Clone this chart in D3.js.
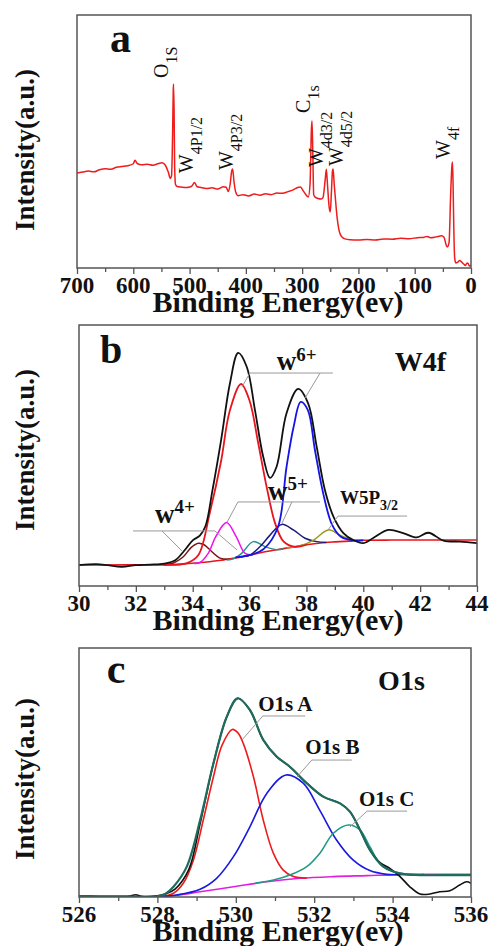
<!DOCTYPE html>
<html>
<head>
<meta charset="utf-8">
<script src="https://cdn.jsdelivr.net/npm/d3@7"></script>
<style>
  body { margin: 0; background: #fff; }
  svg text { font-family: "Liberation Serif", "Times New Roman", serif; font-weight: bold; fill: #111; }
</style>
</head>
<body>
<svg id="chart" width="489" height="946"></svg>
<script>
// ---- data: [binding energy (eV), intensity (a.u., 0-100 of frame height)] ----

// (a) survey spectrum
const surveyPts = [
  [700,37.5],[690,37.9],[680,38.3],[670,38.0],[660,38.8],[650,39.2],[640,39.0],[630,39.8],
  [620,40.1],[610,40.4],[600,41.2],[597,42.6],[593,41.3],[585,40.8],[575,41.0],[565,40.6],
  [555,41.3],[549,41.6],[543,40.6],[538,38.0],[534,35.4],[532,36.5],[530,55],[529,70],
  [528.5,72.7],[527.5,62],[526.5,40],[525,33],[522,32.2],[515,32.0],[505,31.8],[497,32.2],
  [491,33.8],[487,32.2],[480,31.8],[470,31.4],[460,31.7],[450,31.2],[440,32.1],[435,31.9],
  [431,30.2],[428,33],[425,38.5],[423.5,39.1],[421,34],[418,30],[414,28.6],[405,29.0],
  [395,28.5],[385,29.2],[375,28.8],[365,29.3],[355,29.0],[345,29.6],[335,29.5],[325,30.2],
  [315,31.0],[308,31.8],[303,32.0],[298,30.5],[292,28.6],[289,28.1],[286,33],[283.5,55],
  [282.5,58.1],[281,45],[279.5,29],[277,28.0],[272,27.5],[266,27.3],[263,27.8],[259,35],
  [257,39.0],[255,33],[252,24],[250,22.1],[248,30],[246,38.5],[245,39.1],[243,33],[240,25],
  [238,20.2],[235,15.5],[232,13.2],[228,12.0],[224,11.5],[215,11.2],[200,11.1],[185,11.3],
  [170,11.1],[155,11.5],[140,11.4],[125,11.8],[110,11.6],[95,12.0],[85,12.1],[78,12.5],
  [72,12.0],[62,12.3],[52,12.7],[48,12.2],[44,9.0],[42,8.3],[39,10],[36,30],[34,40],
  [33,41.9],[32,35],[30.5,15],[29,4],[27,2.0],[24,2.2],[20,3.0],[17,2.4],[13,1.6],[10,1.0],
  [7,2.0],[5,1.8],[3,0.8],[0,1.0]
];
const surveyTicks = [700, 600, 500, 400, 300, 200, 100, 0];
const surveyMinor = [650, 550, 450, 350, 250, 150, 50];

// (b) W4f
const w4fMeasured = [
  [30,8.0],[30.6,8.4],[31,8.0],[31.5,7.3],[32,8.0],[32.5,8.2],[33,8.6],[33.4,10.0],[33.7,13.5],
  [34.0,17.5],[34.25,19.3],[34.45,23],[34.7,37],[35.0,56],[35.31,77.7],[35.6,89.3],[35.9,84],
  [36.19,67.4],[36.48,49.5],[36.72,41.4],[36.95,45.7],[37.3,66.2],[37.71,75.5],[38.06,70],
  [38.36,53.4],[38.65,36.8],[38.95,26.6],[39.3,20.3],[39.65,17.6],[40.0,16.4],[40.35,18.4],
  [40.88,21.5],[41.4,20.3],[41.88,18.6],[42.29,20.4],[42.82,17.4],[43.4,17.0],[44,16.4]
];
const w4fBackground = [
  [30,8.05],[31,8.05],[32,8.1],[33,8.1],[33.5,8.3],[34,8.7],[34.5,9.2],[35,9.9],[35.5,10.7],
  [36,11.8],[36.5,13.0],[37,14.0],[37.5,14.9],[38,15.8],[38.5,16.5],[39,16.9],[39.5,17.2],
  [40,17.5],[41,17.6],[42,17.6],[43,17.6],[44,17.6]
];
const w6Red = [
  [33,8.1],[33.8,8.8],[34.2,11.9],[34.6,28],[35.0,48],[35.3,67],[35.7,77.4],[36.0,71],
  [36.3,55],[36.6,38],[36.9,24],[37.2,17],[37.6,15],[38,15.8]
];
const w6Blue = [
  [35.5,11],[36.0,11.8],[36.5,14.2],[37.0,22.6],[37.3,45.6],[37.55,61],[37.8,70.5],[38.05,67.4],
  [38.3,52],[38.6,35],[38.9,23.5],[39.2,19],[39.6,17.6],[40,17.5]
];
const w4Brown = [
  [33.0,8.1],[33.32,8.8],[33.67,11.2],[33.95,14.8],[34.2,16.4],[34.4,15.8],[34.61,13.8],
  [34.96,10.7],[35.3,10.3]
];
const w5Magenta = [
  [34.0,8.7],[34.25,9.0],[34.55,12.6],[34.81,18.9],[35.19,24.3],[35.53,18.9],[35.84,12.5],[36.13,11.9]
];
const w4Teal = [
  [35.2,10.0],[35.43,10.4],[35.72,12.5],[36.13,17.0],[36.54,15.1],[36.95,13.9],[37.2,14.3]
];
const w5Navy = [
  [35.7,11.2],[36.02,11.9],[36.37,15.1],[36.72,19.5],[37.13,23.6],[37.54,21.5],[37.95,18.3],
  [38.36,17.0],[38.7,16.7]
];
const w5pOlive = [
  [37.3,14.6],[37.77,15.3],[38.25,17.6],[38.77,21.5],[39.18,19.5],[39.65,17.4],[40,17.5]
];
const w4fTicks = [30, 32, 34, 36, 38, 40, 42, 44];
const w4fMinor = [31, 33, 35, 37, 39, 41, 43];

// (c) O1s
const o1sMeasured = [
  [526,0.4],[526.5,0.3],[527.0,0.3],[527.3,0.4],[527.45,0.9],[527.6,0.3],[528.0,0.5],[528.2,1.2],
  [528.45,3.2],[528.8,11],[529.09,29.5],[529.43,53.7],[529.77,72.4],[530.05,79.8],[530.36,75.1],
  [530.7,63.1],[531.04,56.4],[531.38,52.3],[531.81,45.7],[532.23,40.3],[532.66,37.6],[532.91,34.3],
  [533.17,26.9],[533.42,18.9],[533.68,13.8],[533.93,11.5],[534.19,8.2],[534.44,4.1],[534.7,1.2],
  [534.95,1.2],[535.2,2.1],[535.46,2.5],[535.71,4.8],[535.89,6.1],[536,5.5]
];
const o1sEnvelope = [
  [526,0.2],[527,0.2],[528.0,0.3],[528.2,1.2],[528.41,4.1],[528.75,12.2],[529.09,30.9],
  [529.43,53.7],[529.77,72.4],[530.05,79.8],[530.36,75.1],[530.7,63.1],[531.04,56.4],[531.38,52.3],
  [531.81,45.7],[532.23,40.3],[532.66,37.6],[532.91,34.3],[533.17,26.9],[533.42,18.9],[533.76,12.2],
  [534.18,9.5],[534.69,8.8],[535.5,8.8],[536,8.8]
];
const o1sBackground = [
  [526,0.1],[527,0.1],[528.07,0.1],[528.5,0.7],[529.09,2.1],[529.94,4.1],[530.79,6.1],[531.64,7.5],
  [532.49,8.2],[533.34,8.6],[534.19,9.0],[535,9.1],[536,9.1]
];
const o1sA = [
  [528.07,0.1],[528.41,1.5],[528.66,5.5],[528.92,14.9],[529.17,30.9],[529.43,48.3],[529.65,61],
  [529.91,67.3],[530.05,66],[530.19,61.7],[530.45,48.3],[530.7,30.9],[530.96,17.5],[531.21,10.8],
  [531.47,8.2],[531.81,7.6]
];
const o1sB = [
  [528.0,0.1],[528.49,0.8],[529.09,3.1],[529.51,7.5],[529.94,16.2],[530.36,28.2],[530.79,41.6],
  [531.28,49.0],[531.72,45.7],[532.14,34.9],[532.57,22.9],[532.99,14.9],[533.42,10.6],[533.85,9.1],
  [534.2,9.0]
];
const o1sC = [
  [530.5,5.6],[530.96,6.8],[531.38,8.8],[531.81,12.2],[532.14,17.5],[532.49,25.6],[532.87,28.9],
  [533.17,26.9],[533.42,20.2],[533.68,13.5],[534.02,10.2],[534.44,9.1],[534.8,9.1]
];
const o1sTicks = [526, 528, 530, 532, 534, 536];
const o1sMinor = [527, 529, 531, 533, 535];

// ---- drawing ----
const svg = d3.select('#chart');
svg.append('rect').attr('width', 489).attr('height', 946).attr('fill', '#fff');

function panel(id, box, xDomain, major, minor, yLabelMid) {
  const x = d3.scaleLinear().domain(xDomain).range([box.left, box.right]);
  const y = d3.scaleLinear().domain([0, 100]).range([box.bottom, box.top]);
  const g = svg.append('g');

  svg.append('clipPath').attr('id', id)
    .append('rect').attr('x', box.left).attr('y', box.top)
    .attr('width', box.right - box.left).attr('height', box.bottom - box.top);
  const plot = g.append('g').attr('clip-path', `url(#${id})`);

  // tick marks (outward), labels drawn separately in bold serif
  g.append('g').attr('transform', `translate(0,${box.bottom})`)
    .call(d3.axisBottom(x).tickValues(minor).tickSize(4).tickFormat(''))
    .call(a => a.select('.domain').remove());
  g.append('g').attr('transform', `translate(0,${box.bottom})`)
    .call(d3.axisBottom(x).tickValues(major).tickSize(6).tickFormat(''))
    .call(a => a.select('.domain').remove());
  g.selectAll('.tick line').attr('stroke', '#555').attr('stroke-width', 1.3);

  g.append('g').selectAll('text').data(major).join('text')
    .attr('x', d => x(d)).attr('y', box.bottom + 25)
    .attr('text-anchor', 'middle')
    .attr('font-size', 23).attr('font-weight', 700)
    .style('font-weight', 700)
    .text(d3.format('d'));

  g.append('rect')
    .attr('x', box.left).attr('y', box.top)
    .attr('width', box.right - box.left).attr('height', box.bottom - box.top)
    .attr('fill', 'none').attr('stroke', '#555').attr('stroke-width', 1.5);

  g.append('text')
    .attr('x', 278).attr('y', box.bottom + 44)
    .attr('text-anchor', 'middle').attr('font-size', 30)
    .text('Binding Energy(ev)');
  g.append('text')
    .attr('transform', `translate(34,${yLabelMid}) rotate(-90)`)
    .attr('text-anchor', 'middle').attr('font-size', 27)
    .text('Intensity(a.u.)');

  return { x, y, g, plot };
}

function curve(p, pts, color, width, interp) {
  const line = d3.line()
    .x(d => p.x(d[0])).y(d => p.y(d[1]))
    .curve(interp || d3.curveCatmullRom.alpha(0.5));
  p.plot.append('path').datum(pts)
    .attr('d', line).attr('fill', 'none')
    .attr('stroke', color).attr('stroke-width', width)
    .attr('stroke-linejoin', 'round');
}

// text with sub/superscript parts: [string, size, offset(px, + = down)]
function rich(p, E, I, parts, opts = {}) {
  const tx = p.x(E), ty = p.y(I);
  const t = p.g.append('text')
    .attr('transform', `translate(${tx},${ty})` + (opts.rotate ? ' rotate(-90)' : ''))
    .style('font-weight', opts.weight || 'bold');
  let shift = 0;
  parts.forEach(([s, size, off]) => {
    const o = off || 0;
    t.append('tspan').attr('font-size', size).attr('dy', o - shift).text(s);
    shift = o;
  });
}

function leader(p, pts) {
  p.g.append('path')
    .attr('d', d3.line().x(d => p.x(d[0])).y(d => p.y(d[1]))(pts))
    .attr('fill', 'none').attr('stroke', '#999').attr('stroke-width', 1);
}

// panel a
const pa = panel('clipA', { left: 77, right: 471, top: 15, bottom: 268 }, [700, 0], surveyTicks, surveyMinor, 150);
curve(pa, surveyPts, '#ee1c1c', 1.5, d3.curveMonotoneX);
rich(pa, 641.4, 85.4, [['a', 42]]);
const peakLabels = [
  [538.3, 75.1, 'O', '1S'],
  [493.9, 37.5, 'W', '4P1/2'],
  [422.8, 38.7, 'W', '4P3/2'],
  [286.0, 61.3, 'C', '1s'],
  [263.0, 39.9, 'W', '4d3/2'],
  [227.4, 40.3, 'W', '4d5/2'],
  [37.3, 43.1, 'W', '4f']
];
peakLabels.forEach(([E, I, main, sub]) =>
  rich(pa, E, I, [[main, 20], [sub, 16, 9]], { rotate: true, weight: 'normal' }));

// panel b
const pb = panel('clipB', { left: 79, right: 477, top: 325, bottom: 586 }, [30, 44], w4fTicks, w4fMinor, 450);
curve(pb, w4fBackground, '#e8141e', 1.6);
curve(pb, w4Brown, '#7a1616', 1.5);
curve(pb, w5Magenta, '#ee12ee', 1.5);
curve(pb, w4Teal, '#1e9488', 1.5);
curve(pb, w5Navy, '#1c1c7a', 1.5);
curve(pb, w5pOlive, '#9a9a1e', 1.5);
curve(pb, w6Red, '#e8141e', 1.8);
curve(pb, w6Blue, '#1414e6', 1.8);
curve(pb, w4fMeasured, '#111', 1.8);
rich(pb, 30.74, 85.4, [['b', 40]]);
rich(pb, 41.11, 82.4, [['W4f', 28]]);
rich(pb, 36.96, 82.8, [['w', 27], ['6+', 19, -9]]);
rich(pb, 36.65, 33.0, [['w', 27], ['5+', 19, -10]]);
rich(pb, 32.67, 24.1, [['w', 27], ['4+', 19, -10]]);
rich(pb, 39.18, 31.4, [['W5P', 19], ['3/2', 14, 6]]);
leader(pb, [[35.73, 76.2], [36.01, 81.6], [38.93, 81.6]]);
leader(pb, [[37.95, 72.0], [38.48, 81.6]]);
leader(pb, [[31.9, 21.1], [34.78, 21.1], [35.56, 13.8]]);
leader(pb, [[32.92, 21.1], [33.66, 13.0]]);
leader(pb, [[35.21, 24.5], [35.59, 32.2], [38.48, 32.2]]);
leader(pb, [[37.14, 24.1], [37.49, 32.2]]);
leader(pb, [[38.76, 21.5], [39.11, 26.8], [41.54, 26.8]]);

// panel c
const pc = panel('clipC', { left: 79, right: 471, top: 648, bottom: 897 }, [526, 536], o1sTicks, o1sMinor, 779);
curve(pc, o1sBackground, '#e020e0', 1.6);
curve(pc, o1sA, '#ec1c1c', 1.6);
curve(pc, o1sB, '#1818e0', 1.6);
curve(pc, o1sC, '#229a86', 1.6);
curve(pc, o1sMeasured, '#111', 1.6);
curve(pc, o1sEnvelope, '#1f6b5c', 2.2);
rich(pc, 526.71, 85.9, [['c', 42]]);
rich(pc, 533.63, 83.1, [['O1s', 28]]);
rich(pc, 530.57, 74.7, [['O1s A', 21]]);
rich(pc, 531.77, 57.4, [['O1s B', 21]]);
rich(pc, 533.14, 36.5, [['O1s C', 21]]);
leader(pc, [[530.16, 63.1], [530.69, 72.7], [531.77, 72.7]]);
leader(pc, [[531.56, 48.2], [531.94, 55.0], [532.96, 55.0]]);
leader(pc, [[532.91, 28.1], [533.35, 34.5], [534.37, 34.5]]);
</script>
</body>
</html>
